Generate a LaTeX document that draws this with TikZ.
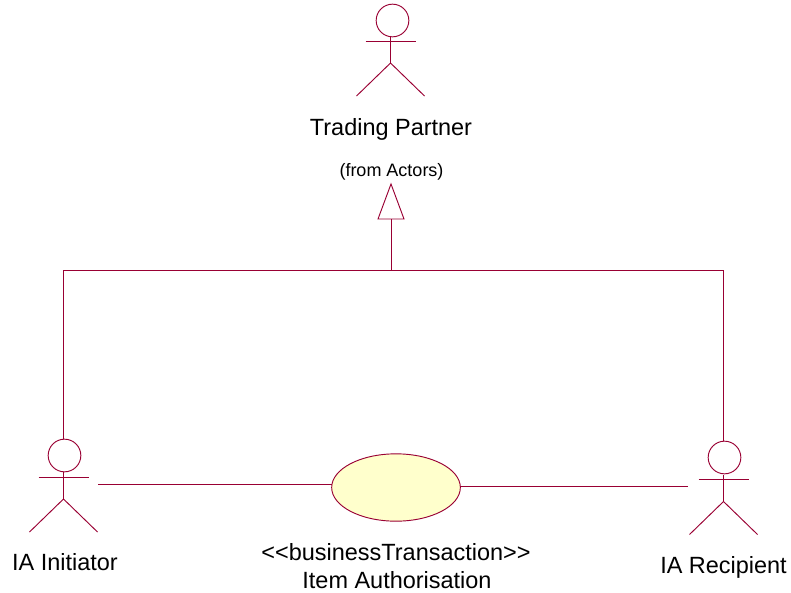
\documentclass[tikz,border=0pt]{standalone}
\usepackage{fontspec}
\setmainfont{Liberation Sans}[Ligatures=NoCommon]
\usetikzlibrary{shapes.geometric}
\definecolor{rose}{HTML}{990033}
\definecolor{cream}{HTML}{FFFFCC}
\tikzset{
  ln/.style={draw=rose,line width=0.7pt},
  headc/.style={circle,ln,minimum size=24.5pt,inner sep=0pt,outer sep=0pt},
  usecase/.style={ellipse,ln,fill=cream,minimum width=96.5pt,minimum height=50.5pt,inner sep=0pt,outer sep=0pt},
  lab/.style={inner sep=0pt,text=black,font=\fontsize{17.6pt}{20pt}\selectfont},
  small/.style={inner sep=0pt,text=black,font=\fontsize{13.5pt}{16pt}\selectfont},
  gentri/.style={ln,line join=miter}
}
\newcommand{\actorfig}[3]{%
  \coordinate (#1neck) at (#2,#3-5);
  \coordinate (#1hip) at (#2,#3+22);
  \coordinate (#1la) at (#2-25,#3);
  \coordinate (#1ra) at (#2+25,#3);
  \coordinate (#1ll) at (#2-34,#3+55);
  \coordinate (#1rl) at (#2+34,#3+55);
  \draw[ln] (#1la) -- (#1ra);
  \draw[ln] (#1neck) -- (#1hip);
  \draw[ln] (#1ll) -- (#1hip) -- (#1rl);
}
\begin{document}
\begin{tikzpicture}[x=0.75pt,y=-0.75pt]
\useasboundingbox (0,0) rectangle (791,592);
% Trading Partner
\node[headc] (tphead) at (392.5,20.5) {};
\actorfig{tp}{390.5}{41}
\node[lab] (tplabel) at (391,129.5) {Trading Partner};
\node[small] (tpfrom) at (391.5,172) {(from Actors)};
% Initiator
\node[headc] (inhead) at (64.5,455.5) {};
\actorfig{in}{63.5}{477}
\node[lab] (inlabel) at (65,562) {IA Initiator};
% Recipient
\node[headc] (rehead) at (724.5,457.5) {};
\actorfig{re}{723.5}{479.5}
\node[lab] (relabel) at (723.5,567) {IA Recipient};
% Use case
\node[usecase] (uc) at (396,487.5) {};
\node[lab] (uclabel) at (396,552) {<{}<businessTransaction>{}>};
\node[lab] (ucname) at (397,580) {Item Authorisation};
% Generalisation
\coordinate (apex) at (391,184);
\coordinate (bl) at (378,219);
\coordinate (br) at (404,219);
\coordinate (bm) at (391,219);
\coordinate (junc) at (391,270);
\coordinate (cl) at (63,270);
\coordinate (cr) at (723,270);
\coordinate (lin) at (63,438.5);
\coordinate (rin) at (723,441);
\draw[gentri] (apex) -- (bl) -- (br) -- cycle;
\draw[ln] (bm) -- (junc);
\draw[ln] (lin) -- (cl) -- (cr) -- (rin);
% Associations
\coordinate (as1) at (98,484.5);
\coordinate (as2) at (688,486.5);
\draw[ln] (as1) -- (uc.west |- as1);
\draw[ln] (uc.east |- as2) -- (as2);
\end{tikzpicture}
\end{document}
